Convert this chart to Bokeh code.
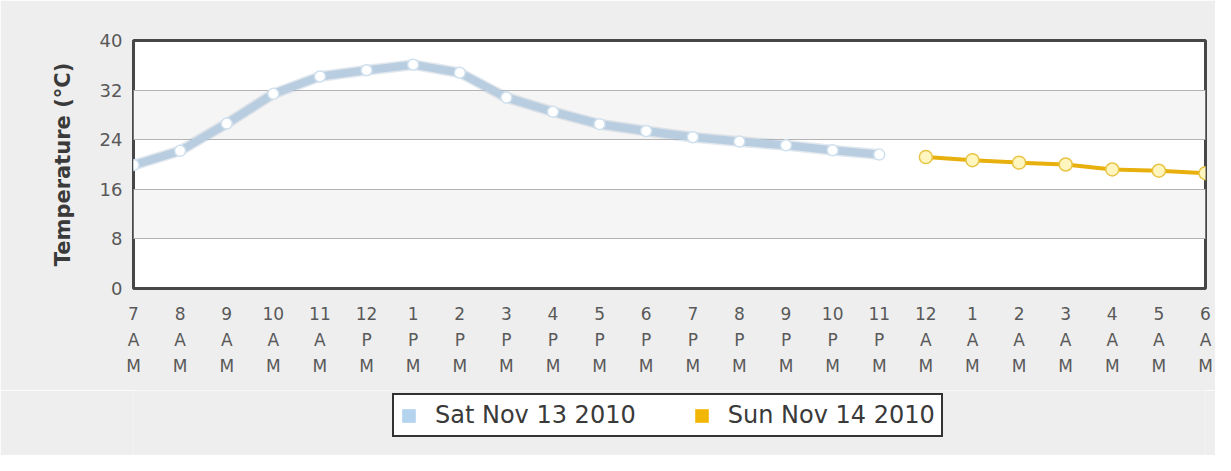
from bokeh.plotting import figure
from bokeh.layouts import column
from bokeh.models import FixedTicker, Legend, LegendItem, ColumnDataSource
from bokeh.embed import file_html
from bokeh.resources import INLINE

hours = ["7", "8", "9", "10", "11", "12", "1", "2", "3", "4", "5", "6",
         "7", "8", "9", "10", "11", "12", "1", "2", "3", "4", "5", "6"]
periods = ["AM"] * 5 + ["PM"] * 12 + ["AM"] * 7
sat_label = "Sat Nov 13 2010"
sun_label = "Sun Nov 14 2010"
sat_temps = [19.9, 22.2, 26.6, 31.4, 34.2, 35.2, 36.1, 34.8, 30.8, 28.5, 26.5,
             25.4, 24.4, 23.7, 23.1, 22.3, 21.6]
sun_temps = [21.2, 20.7, 20.3, 20.0, 19.2, 19.0, 18.6]
y_ticks = [0, 8, 16, 24, 32, 40]

sat_x = list(range(len(sat_temps)))
sun_x = list(range(len(sat_temps), len(sat_temps) + len(sun_temps)))
tick_labels = {i: f"{h}\n{p[0]}\n{p[1]}" for i, (h, p) in enumerate(zip(hours, periods))}

BG = "#eeeeee"

p = figure(width=1215, height=390, output_backend="svg", toolbar_location=None,
           x_range=(0, len(hours) - 1), y_range=(0, 40),
           min_border_left=133, min_border_right=10, min_border_top=40,
           min_border_bottom=102)
p.background_fill_color = "white"
p.border_fill_color = BG
p.outline_line_color = "#474747"
p.outline_line_width = 3

# axes
p.xaxis.ticker = FixedTicker(ticks=list(range(len(hours))))
p.xaxis.major_label_overrides = tick_labels
p.xaxis.major_label_text_font = "DejaVu Sans"
p.xaxis.major_label_text_font_size = "17px"
p.xaxis.major_label_text_color = "#595959"
p.xaxis.major_label_text_line_height = 1.3
p.xaxis.major_label_standoff = 9
p.yaxis.ticker = FixedTicker(ticks=y_ticks)
p.yaxis.major_label_text_font = "DejaVu Sans"
p.yaxis.major_label_text_font_size = "18px"
p.yaxis.major_label_text_color = "#595959"
p.yaxis.major_label_standoff = 5
p.yaxis.axis_label = "Temperature (°C)"
p.yaxis.axis_label_text_font = "DejaVu Sans"
p.yaxis.axis_label_text_font_size = "21px"
p.yaxis.axis_label_text_font_style = "bold"
p.yaxis.axis_label_text_color = "#3a3a3a"
p.yaxis.axis_label_standoff = 22
for ax in (p.xaxis, p.yaxis):
    ax.axis_line_color = None
    ax.major_tick_line_color = None
    ax.minor_tick_line_color = None

p.xgrid.grid_line_color = None
p.ygrid.grid_line_color = "#b4b4b4"
p.ygrid.grid_line_width = 1
p.ygrid.band_fill_color = "#f5f5f5"
p.ygrid.band_fill_alpha = 1

# Saturday series
sat_src = ColumnDataSource(dict(x=sat_x, y=sat_temps))
p.line("x", "y", source=sat_src, line_color="#9fb3c6", line_width=11, line_alpha=0.3,
       line_join="round", line_cap="round")
p.line("x", "y", source=sat_src, line_color="#b8cde0", line_width=8,
       line_join="round", line_cap="round")
p.scatter("x", "y", source=sat_src, size=11, fill_color="white",
          line_color="#cfe0ee", line_width=1.5)

# Sunday series
sun_src = ColumnDataSource(dict(x=sun_x, y=sun_temps))
p.line("x", "y", source=sun_src, line_color="#e8b00c", line_width=4, line_join="round")
p.scatter("x", "y", source=sun_src, size=13, fill_color="#fff6bf",
          line_color="#e9c445", line_width=1.5)

# legend strip
q = figure(width=1215, height=65, output_backend="svg", toolbar_location=None,
           x_range=(0, 1), y_range=(0, 1), x_axis_location=None, y_axis_location=None,
           min_border=0)
q.grid.visible = False
q.outline_line_color = None
q.background_fill_color = BG
q.border_fill_color = BG
nan = float("nan")
lg_sat = q.quad(left=[nan], right=[nan], bottom=[nan], top=[nan],
                fill_color="#b3d3ee", line_color=None)
lg_sun = q.quad(left=[nan], right=[nan], bottom=[nan], top=[nan],
                fill_color="#f2b705", line_color=None)
legend = Legend(items=[LegendItem(label=sat_label, renderers=[lg_sat]),
                       LegendItem(label=sun_label, renderers=[lg_sun])],
                location=(259, 18), orientation="horizontal")
legend.label_text_font = "DejaVu Sans"
legend.label_text_font_size = "24px"
legend.label_text_color = "#3a3a3a"
legend.border_line_color = "#333333"
legend.border_line_alpha = 1
legend.border_line_width = 2
legend.background_fill_color = "white"
legend.background_fill_alpha = 1
legend.glyph_width = 17
legend.glyph_height = 17
legend.spacing = 57
legend.padding = 6
legend.margin = 0
legend.label_standoff = 18
q.add_layout(legend, "center")

open("out.html", "w").write(file_html(column(p, q, spacing=0), INLINE))
